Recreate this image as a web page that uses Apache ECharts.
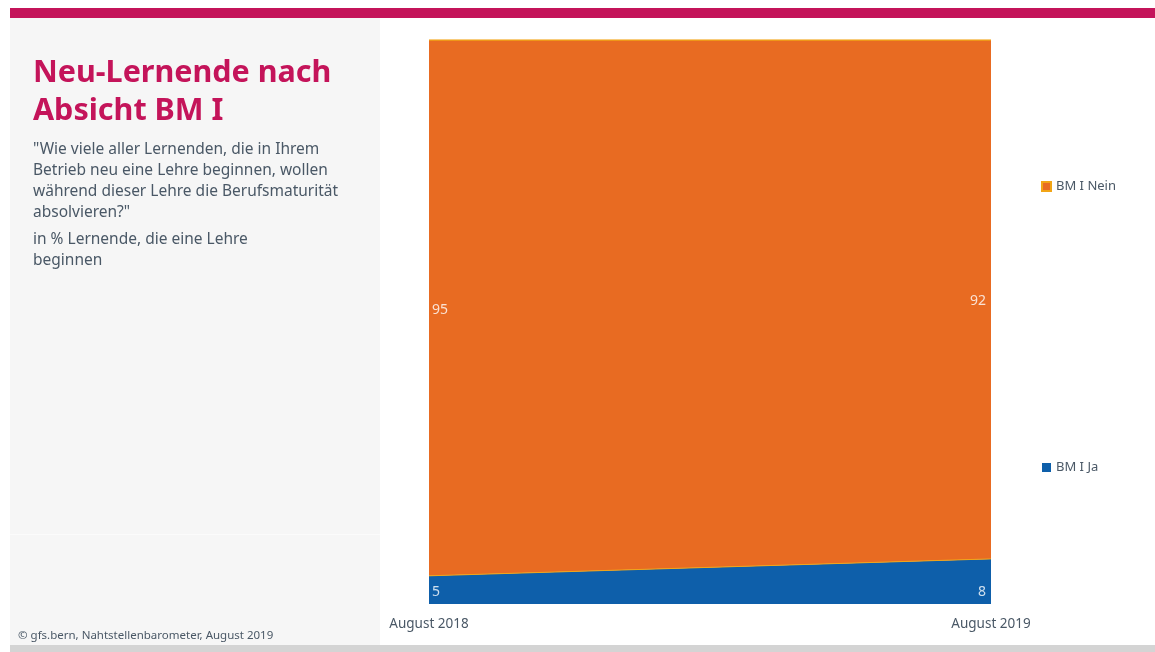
<!DOCTYPE html>
<html>
<head>
<meta charset="utf-8">
<script src="https://cdn.jsdelivr.net/npm/echarts@6/dist/echarts.min.js"></script>
<style>
  html, body { margin: 0; padding: 0; background: #ffffff; }
  #chart { width: 1155px; height: 652px; }
</style>
</head>
<body>
<div id="chart"></div>
<script>
// Survey waves and shares (in %)
const waves = ['August 2018', 'August 2019'];
const bmJa = [5, 8];
const bmNein = [95, 92];
const seriesNames = ['BM I Ja', 'BM I Nein'];

const COL_JA = '#0E5FAA';
const COL_NEIN = '#E86B22';
const COL_EDGE = '#F2A516';
const TEXT = '#4A5866';
const FONT = '"Noto Sans", "Open Sans", sans-serif';

// "Nein" labels sit in the middle of their band, "Ja" labels near the band's base
const neinMid = bmNein.map((v, i) => bmJa[i] + v / 2);
const jaBase = bmJa.map(() => 0);

function bandLabels(anchors, values, dy) {
  return anchors.map((a, i) => ({
    value: [i, a],
    label: {
      formatter: String(values[i]),
      position: i === 0 ? 'right' : 'left',
      distance: i === 0 ? 3 : 5,
      offset: [0, dy]
    }
  }));
}

const chart = echarts.init(document.getElementById('chart'), null, { renderer: 'canvas' });

chart.setOption({
  animation: false,
  backgroundColor: '#ffffff',
  graphic: [
    { type: 'rect', shape: { x: 10, y: 8, width: 1145, height: 10 }, style: { fill: '#C4145A' }, z: 0 },
    { type: 'rect', shape: { x: 10, y: 18, width: 370, height: 627 }, style: { fill: '#F6F6F6' }, z: 0 },
    { type: 'rect', shape: { x: 10, y: 534, width: 370, height: 1 }, style: { fill: '#FBFBFB' }, z: 0 },
    { type: 'rect', shape: { x: 10, y: 645, width: 1145, height: 7 }, style: { fill: '#D4D4D4' }, z: 0 }
  ],
  title: [
    {
      text: 'Neu-Lernende nach\nAbsicht BM I',
      left: 33, top: 54, padding: 0,
      textStyle: { color: '#C4145A', fontSize: 30.5, fontWeight: 'bold', fontFamily: FONT, lineHeight: 38 }
    },
    {
      text: '"Wie viele aller Lernenden, die in Ihrem\nBetrieb neu eine Lehre beginnen, wollen\nwährend dieser Lehre die Berufsmaturität\nabsolvieren?"',
      left: 33, top: 139, padding: 0,
      textStyle: { color: TEXT, fontSize: 15.5, fontWeight: 'normal', fontFamily: FONT, lineHeight: 21 }
    },
    {
      text: 'in % Lernende, die eine Lehre\nbeginnen',
      left: 33, top: 229, padding: 0,
      textStyle: { color: TEXT, fontSize: 15.5, fontWeight: 'normal', fontFamily: FONT, lineHeight: 21 }
    },
    {
      text: '© gfs.bern, Nahtstellenbarometer, August 2019',
      left: 18, top: 630, padding: 0,
      textStyle: { color: TEXT, fontSize: 11.5, fontWeight: 'normal', fontFamily: FONT }
    }
  ],
  legend: {
    orient: 'vertical',
    left: 1036, top: 175,
    itemGap: 268,
    itemWidth: 9, itemHeight: 9,
    icon: 'rect',
    data: [seriesNames[1], seriesNames[0]],
    textStyle: { color: TEXT, fontSize: 13, fontFamily: FONT }
  },
  grid: { left: 429, right: 164, top: 40, bottom: 48, containLabel: false },
  xAxis: {
    type: 'category',
    data: waves,
    boundaryGap: false,
    axisLine: { show: false },
    axisTick: { show: false },
    splitLine: { show: false },
    axisLabel: { color: TEXT, fontSize: 13.5, fontFamily: FONT, margin: 13 }
  },
  yAxis: {
    type: 'value', min: 0, max: 100,
    show: false
  },
  series: [
    {
      name: seriesNames[0],
      type: 'line',
      stack: 'total',
      data: bmJa,
      symbol: 'none',
      itemStyle: { color: COL_JA },
      lineStyle: { color: COL_EDGE, width: 1 },
      areaStyle: { color: COL_JA, opacity: 1 }
    },
    {
      name: seriesNames[1],
      type: 'line',
      stack: 'total',
      data: bmNein,
      symbol: 'none',
      itemStyle: { color: COL_NEIN, borderColor: COL_EDGE, borderWidth: 1 },
      lineStyle: { color: COL_EDGE, width: 1.5 },
      areaStyle: { color: COL_NEIN, opacity: 1 }
    },
    {
      name: 'labels-ja',
      type: 'scatter',
      symbolSize: 0,
      silent: true,
      data: bandLabels(jaBase, bmJa, -12),
      label: { show: true, color: '#ffffff', fontSize: 14, fontFamily: FONT },
      z: 5
    },
    {
      name: 'labels-nein',
      type: 'scatter',
      symbolSize: 0,
      silent: true,
      data: bandLabels(neinMid, bmNein, 2),
      label: { show: true, color: '#ffffff', fontSize: 14, fontFamily: FONT },
      z: 5
    }
  ]
});
</script>
</body>
</html>
